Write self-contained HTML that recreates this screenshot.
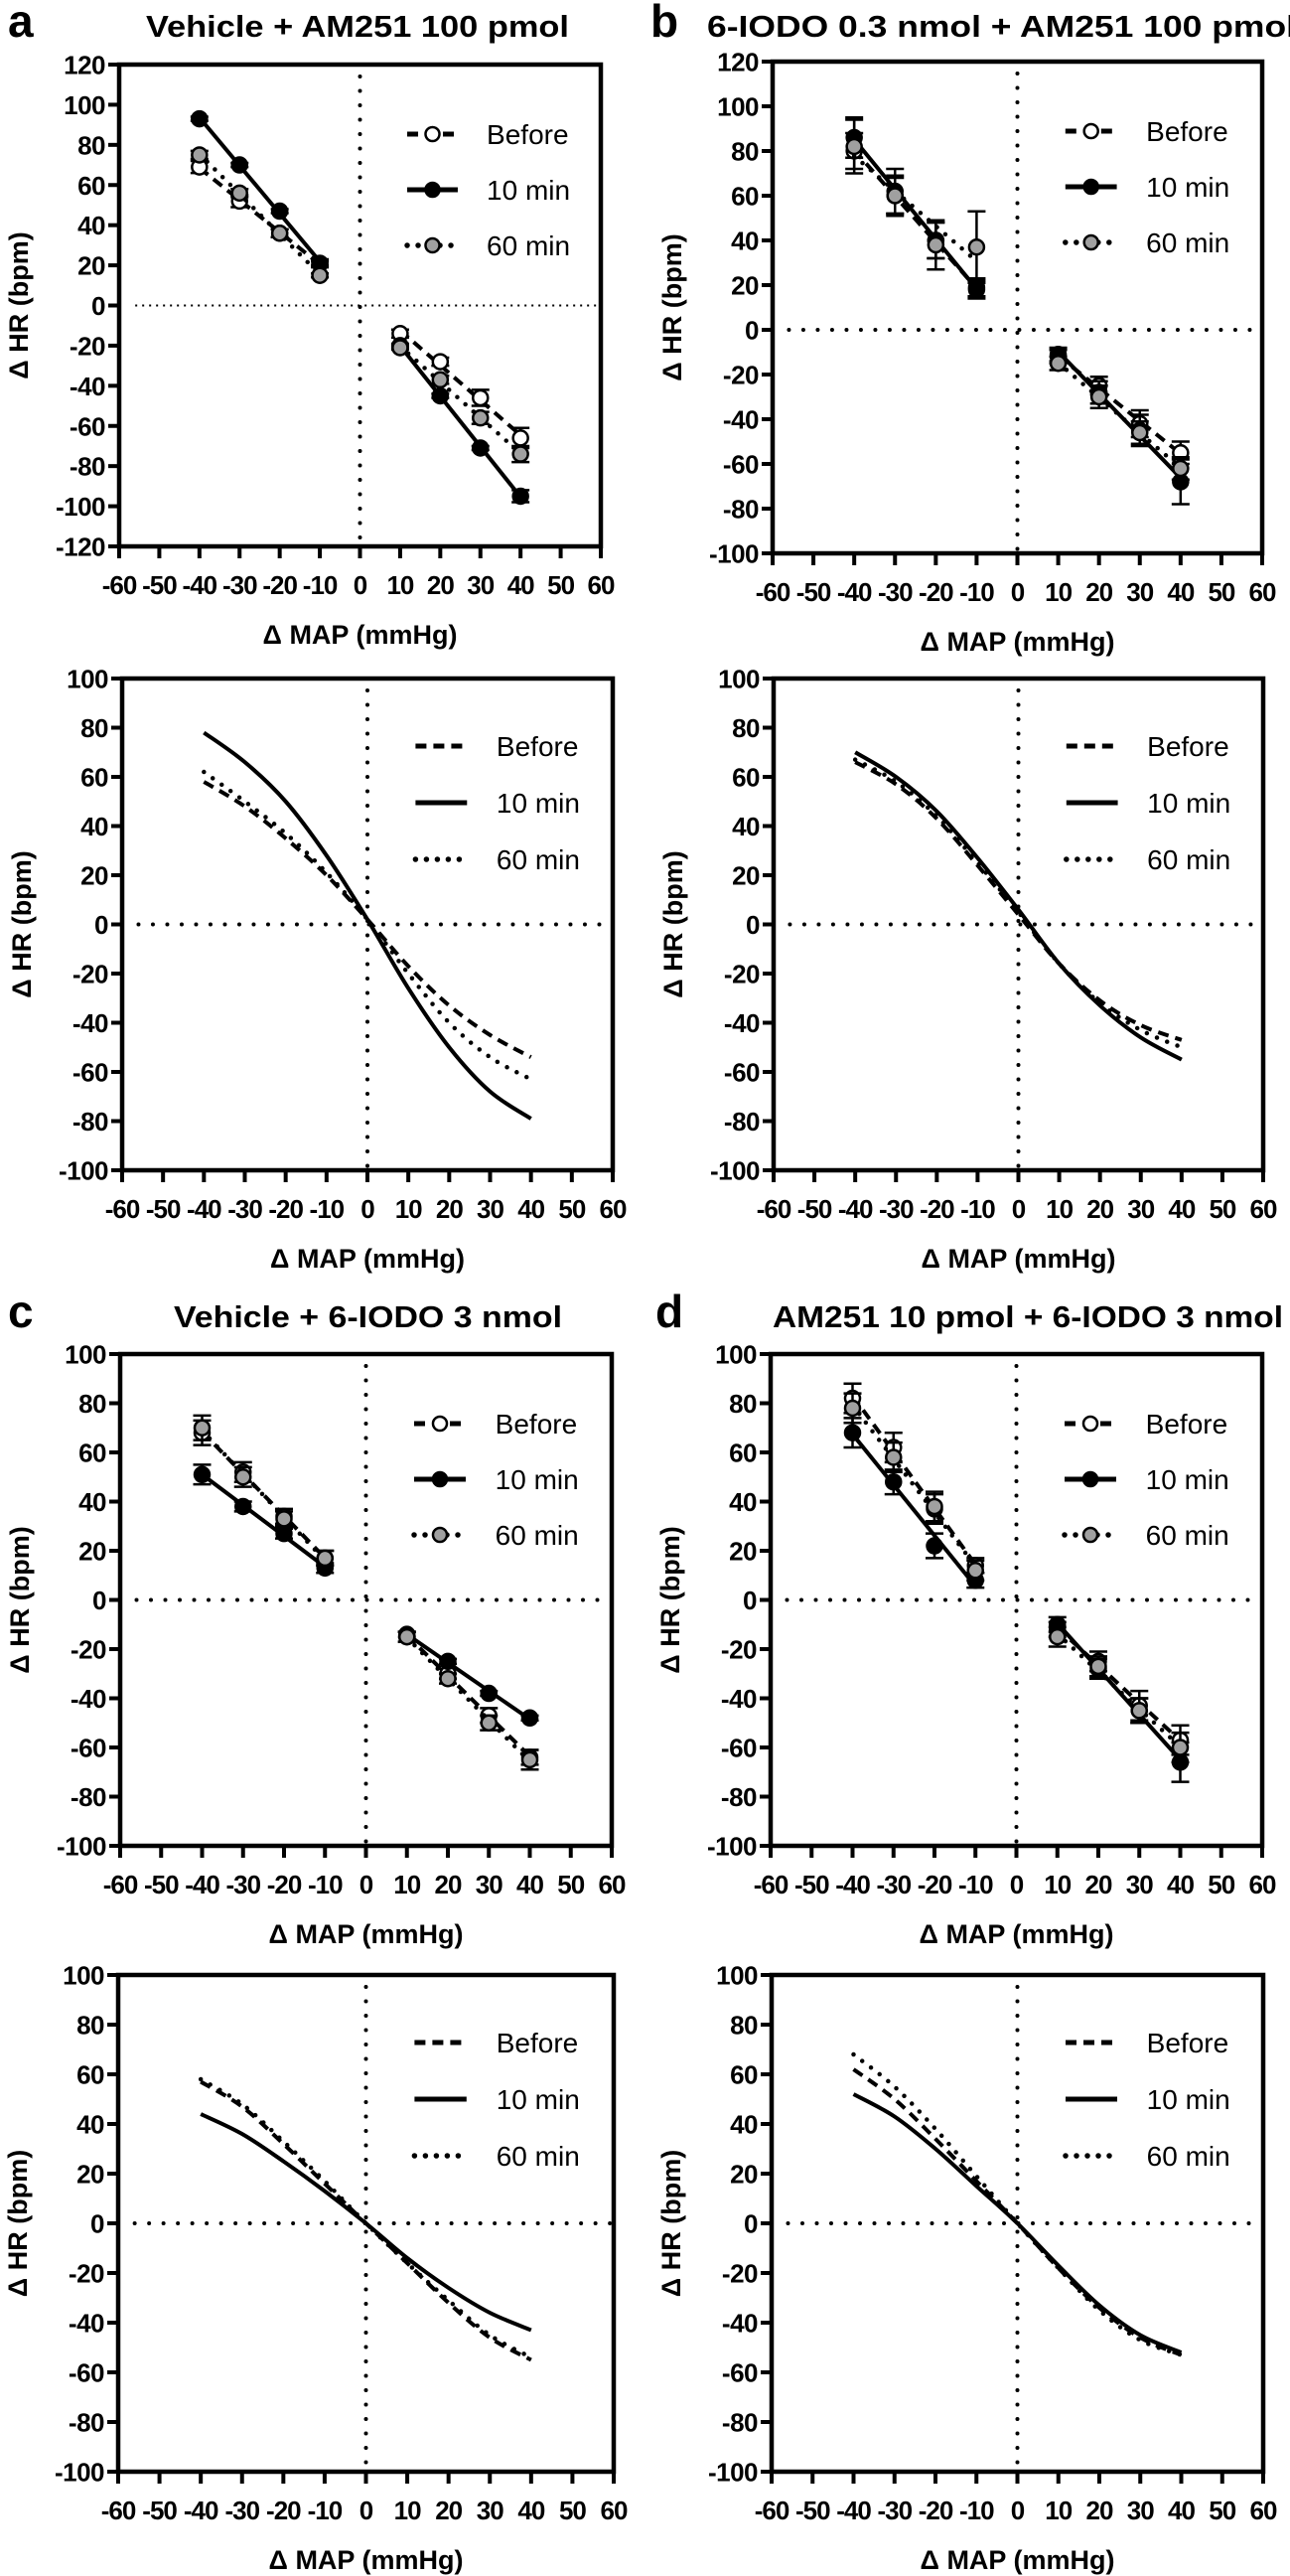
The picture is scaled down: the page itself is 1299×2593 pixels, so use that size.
<!DOCTYPE html>
<html><head><meta charset="utf-8">
<style>
html,body{margin:0;padding:0;background:#fff;}
svg{display:block;font-family:"Liberation Sans",Arial,sans-serif;}
</style></head>
<body>
<svg id="fig" width="1299" height="2593" viewBox="0 0 1299 2593" xmlns="http://www.w3.org/2000/svg">
<g id="g"></g>
</svg>
<script>
// ---------- DATA ----------
const mapPoints = [-40,-30,-20,-10,10,20,30,40];
const curveX = [-40,-30,-20,-10,0,10,20,30,40];
const seriesNames = ["Before","10 min","60 min"];

// Panel a top (scatter)
const aBefore = [69,52,36,21,-14,-28,-46,-66];
const a10 = [93,70,47,21,-20,-45,-71,-95];
const a60 = [75,56,36,15,-21,-37,-56,-74];
const aBeforeErr = [3,3,2,2,2,2,4,5];
const a10Err = [1,1,1,1,1,1,1,3];
const a60Err = [2,2,2,1,1,2,3,4];
// Panel b top
const bBefore = [80,60,40,18,-12,-25,-42,-55];
const b10 = [86,62,40,19,-11,-28,-45,-68];
const b60 = [82,60,38,37,-15,-30,-46,-62];
const bBeforeErr = [8,8,8,4,3,4,6,5];
const b10Err = [9,10,8,4,3,5,7,10];
const b60Err = [12,9,11,16,3,5,5,5];
// Panel c top
const cBefore = [68,52,34,17,-15,-30,-47,-64];
const c10 = [51,38,27,13,-14,-25,-38,-48];
const c60 = [70,50,33,17,-15,-32,-50,-65];
const cBeforeErr = [5,4,3,3,2,2,3,3];
const c10Err = [4,2,2,2,1,1,1,1];
const c60Err = [5,4,3,3,2,2,3,4];
// Panel d top
const dBefore = [82,62,37,14,-12,-25,-43,-57];
const d10 = [68,48,22,8,-10,-28,-45,-66];
const d60 = [78,58,38,12,-15,-27,-45,-60];
const dBeforeErr = [6,6,6,3,3,4,6,6];
const d10Err = [6,5,5,3,3,4,5,8];
const d60Err = [6,6,6,4,4,4,5,6];

// Bottom sigmoid curves
const aCurveBefore = [58,48,35,20,2,-17,-33,-45,-54];
const aCurve10 = [78,66,50,28,2,-26,-50,-68,-79];
const aCurve60 = [62,50,37,21,2,-20,-40,-54,-63];
const bCurveBefore = [66,57,43,24,4,-16,-31,-41,-47];
const bCurve10 = [70,60,46,27,6,-16,-33,-46,-55];
const bCurve60 = [67,58,44,25,5,-16,-32,-43,-50];
const cCurveBefore = [57,47,32,16,0,-16,-32,-46,-55];
const cCurve10 = [44,36,25,13,0,-14,-26,-36,-43];
const cCurve60 = [58,48,33,17,0,-16,-31,-45,-54];
const dCurveBefore = [62,50,34,17,0,-18,-34,-46,-53];
const dCurve10 = [52,43,30,15,0,-17,-33,-45,-52];
const dCurve60 = [68,55,38,19,0,-18,-35,-47,-53];

const xTicks = [-60,-50,-40,-30,-20,-10,0,10,20,30,40,50,60];
const yTicks120 = [120,100,80,60,40,20,0,-20,-40,-60,-80,-100,-120];
const yTicks120b = [120,100,80,60,40,20,0,-20,-40,-60,-80,-100];
const yTicks100 = [100,80,60,40,20,0,-20,-40,-60,-80,-100];

// ---------- DRAWING ----------
const NS = "http://www.w3.org/2000/svg";
const root = document.getElementById("g");
function el(tag, attrs, parent, text){
  const e = document.createElementNS(NS, tag);
  for (const k in attrs) e.setAttribute(k, attrs[k]);
  if (text !== undefined) e.textContent = text;
  (parent||root).appendChild(e);
  return e;
}
function fit(xs, ys){
  const n = xs.length; let sx=0,sy=0,sxx=0,sxy=0;
  for(let i=0;i<n;i++){sx+=xs[i];sy+=ys[i];sxx+=xs[i]*xs[i];sxy+=xs[i]*ys[i];}
  const m=(n*sxy-sx*sy)/(n*sxx-sx*sx); return {m:m,b:(sy-m*sx)/n};
}
function smoothPath(pts){
  let d = "M"+pts[0][0]+","+pts[0][1];
  for(let i=0;i<pts.length-1;i++){
    const p0=pts[i-1]||pts[i], p1=pts[i], p2=pts[i+1], p3=pts[i+2]||pts[i+1];
    const c1=[p1[0]+(p2[0]-p0[0])/6, p1[1]+(p2[1]-p0[1])/6];
    const c2=[p2[0]-(p3[0]-p1[0])/6, p2[1]-(p3[1]-p1[1])/6];
    d += " C"+c1[0]+","+c1[1]+" "+c2[0]+","+c2[1]+" "+p2[0]+","+p2[1];
  }
  return d;
}
const styles = [
  {dash:"11,7", width:4, cap:"butt", fill:"#fff"},
  {dash:"", width:4, cap:"butt", fill:"#000"},
  {dash:"0,11", width:4.5, cap:"round", fill:"#a0a0a0"}
];

function panel(p){
  const g = el("g", {});
  
  
  const W = p.R-p.L, H = p.B-p.T;
  const sx = v => p.L + (v+60)/120*W;
  const sy = v => p.T + (p.ymax - v)/(p.ymax-p.ymin)*H;

  const zl = el("line",{x1:sx(0),x2:sx(0),y1:p.T+12,y2:p.B-4,stroke:"#000","stroke-width":4,"stroke-dasharray":"0,14.5","stroke-linecap":"round"},g);
  
  
  const zh = el("line",{x1:sx(-56),x2:p.R,y1:sy(0),y2:sy(0),stroke:"#000","stroke-width":p.thinZero?2:4,"stroke-dasharray":p.thinZero?"2,5":"0,14.5","stroke-linecap":p.thinZero?"butt":"round"},g);
  
  

  const box = el("rect",{x:p.L,y:p.T,width:W,height:H,fill:"none",stroke:"#000","stroke-width":4.5},g);
  
  

  p.yTicks.forEach(v=>{
    const y = sy(v);
    el("line",{x1:p.L-11,x2:p.L,y1:y,y2:y,stroke:"#000","stroke-width":4},g);
    const t = el("text",{x:p.L-14,y:y+9.5,"text-anchor":"end","font-size":26,"font-weight":"bold","letter-spacing":"-0.5"},g,String(v));
    
    
  });
  xTicks.forEach(v=>{
    const x = sx(v);
    el("line",{x1:x,x2:x,y1:p.B,y2:p.B+12,stroke:"#000","stroke-width":4},g);
    const t = el("text",{x:x,y:p.B+48,"text-anchor":"middle","font-size":26,"font-weight":"bold","letter-spacing":"-1"},g,String(v));
    
    
  });
  const xt = el("text",{x:(p.L+p.R)/2,y:p.B+98,"text-anchor":"middle","font-size":27,"font-weight":"bold"},g,"Δ MAP (mmHg)");
  
  
  const cy = (p.T+p.B)/2;
  const yt = el("text",{x:0,y:0,transform:"translate("+(p.L-92)+","+cy+") rotate(-90)","text-anchor":"middle","font-size":27,"font-weight":"bold"},g,"Δ HR (bpm)");
  
  

  p.series.forEach((s,i)=>{
    const st = styles[i];
    const sg = el("g",{},g);
    
    
    if (p.type==="scatter"){
      [[0,4],[4,8]].forEach(r=>{
        const xs = mapPoints.slice(r[0],r[1]), ys = s.slice(r[0],r[1]);
        const f = fit(xs,ys);
        const x0 = xs[0], x1 = xs[xs.length-1];
        el("line",{x1:sx(x0),y1:sy(f.m*x0+f.b),x2:sx(x1),y2:sy(f.m*x1+f.b),stroke:"#000","stroke-width":st.width,"stroke-dasharray":st.dash,"stroke-linecap":st.cap},sg);
      });
      mapPoints.forEach((x,j)=>{
        const e = p.errs[i][j];
        const X = sx(x), Y1 = sy(s[j]+e), Y2 = sy(s[j]-e);
        el("line",{x1:X,x2:X,y1:Y1,y2:Y2,stroke:"#000","stroke-width":2.5},sg);
        el("line",{x1:X-9,x2:X+9,y1:Y1,y2:Y1,stroke:"#000","stroke-width":2.5},sg);
        el("line",{x1:X-9,x2:X+9,y1:Y2,y2:Y2,stroke:"#000","stroke-width":2.5},sg);
        const c = el("circle",{cx:X,cy:sy(s[j]),r:7.5,fill:st.fill,stroke:"#000","stroke-width":2.5},sg);
        
        
      });
    } else {
      const pts = curveX.map((x,j)=>[sx(x),sy(s[j])]);
      const path = el("path",{d:smoothPath(pts),fill:"none",stroke:"#000","stroke-width":st.width,"stroke-dasharray":st.dash,"stroke-linecap":st.cap},sg);
      
      
    }
  });

  const lg = el("g",{},g);
  
  
  const rows = p.type==="scatter" ? [70,126,182] : [68,125,182];
  seriesNames.forEach((n,i)=>{
    const st = styles[i];
    const y = p.T + rows[i];
    const x1 = p.L+0.598*W, x2 = p.L+0.703*W;
    const e = el("g",{},lg);
    
    
    el("line",{x1:x1,x2:x2,y1:y,y2:y,stroke:"#000","stroke-width":st.width+1,"stroke-dasharray":st.dash,"stroke-linecap":st.cap},e);
    if (p.type==="scatter") el("circle",{cx:(x1+x2)/2,cy:y,r:7,fill:st.fill,stroke:"#000","stroke-width":2.5},e);
    el("text",{x:p.L+0.763*W,y:y+10,"font-size":28},e,n);
  });
}

const panels = [
  {name:"panel-a-scatter",type:"scatter",L:120,R:605,T:65,B:550,ymax:120,ymin:-120,yTicks:yTicks120,thinZero:true,series:[aBefore,a10,a60],errs:[aBeforeErr,a10Err,a60Err]},
  {name:"panel-b-scatter",type:"scatter",L:778,R:1271,T:62,B:557,ymax:120,ymin:-100,yTicks:yTicks120b,series:[bBefore,b10,b60],errs:[bBeforeErr,b10Err,b60Err]},
  {name:"panel-a-curves",type:"curve",L:123,R:617,T:683,B:1178,ymax:100,ymin:-100,yTicks:yTicks100,series:[aCurveBefore,aCurve10,aCurve60]},
  {name:"panel-b-curves",type:"curve",L:779,R:1272,T:683,B:1178,ymax:100,ymin:-100,yTicks:yTicks100,series:[bCurveBefore,bCurve10,bCurve60]},
  {name:"panel-c-scatter",type:"scatter",L:121,R:616,T:1363,B:1858,ymax:100,ymin:-100,yTicks:yTicks100,series:[cBefore,c10,c60],errs:[cBeforeErr,c10Err,c60Err]},
  {name:"panel-d-scatter",type:"scatter",L:776,R:1271,T:1363,B:1858,ymax:100,ymin:-100,yTicks:yTicks100,series:[dBefore,d10,d60],errs:[dBeforeErr,d10Err,d60Err]},
  {name:"panel-c-curves",type:"curve",L:119,R:618,T:1988,B:2488,ymax:100,ymin:-100,yTicks:yTicks100,series:[cCurveBefore,cCurve10,cCurve60]},
  {name:"panel-d-curves",type:"curve",L:777,R:1272,T:1988,B:2488,ymax:100,ymin:-100,yTicks:yTicks100,series:[dCurveBefore,dCurve10,dCurve60]}
];
panels.forEach(panel);

const titles = [
  ["a",8,37,"Vehicle + AM251 100 pmol",147,426],
  ["b",655,37,"6-IODO 0.3 nmol + AM251 100 pmol",712,593],
  ["c",8,1336,"Vehicle + 6-IODO 3 nmol",175,391],
  ["d",660,1336,"AM251 10 pmol + 6-IODO 3 nmol",778,514]
];
titles.forEach(t=>{
  const l = el("text",{x:t[1],y:t[2],"font-size":46,"font-weight":"bold"},root,t[0]);
  
  
  const tt = el("text",{x:t[4],y:t[2],"font-size":31,"font-weight":"bold",textLength:t[5],lengthAdjust:"spacingAndGlyphs"},root,t[3]);
  
  
});
</script>
</body></html>
